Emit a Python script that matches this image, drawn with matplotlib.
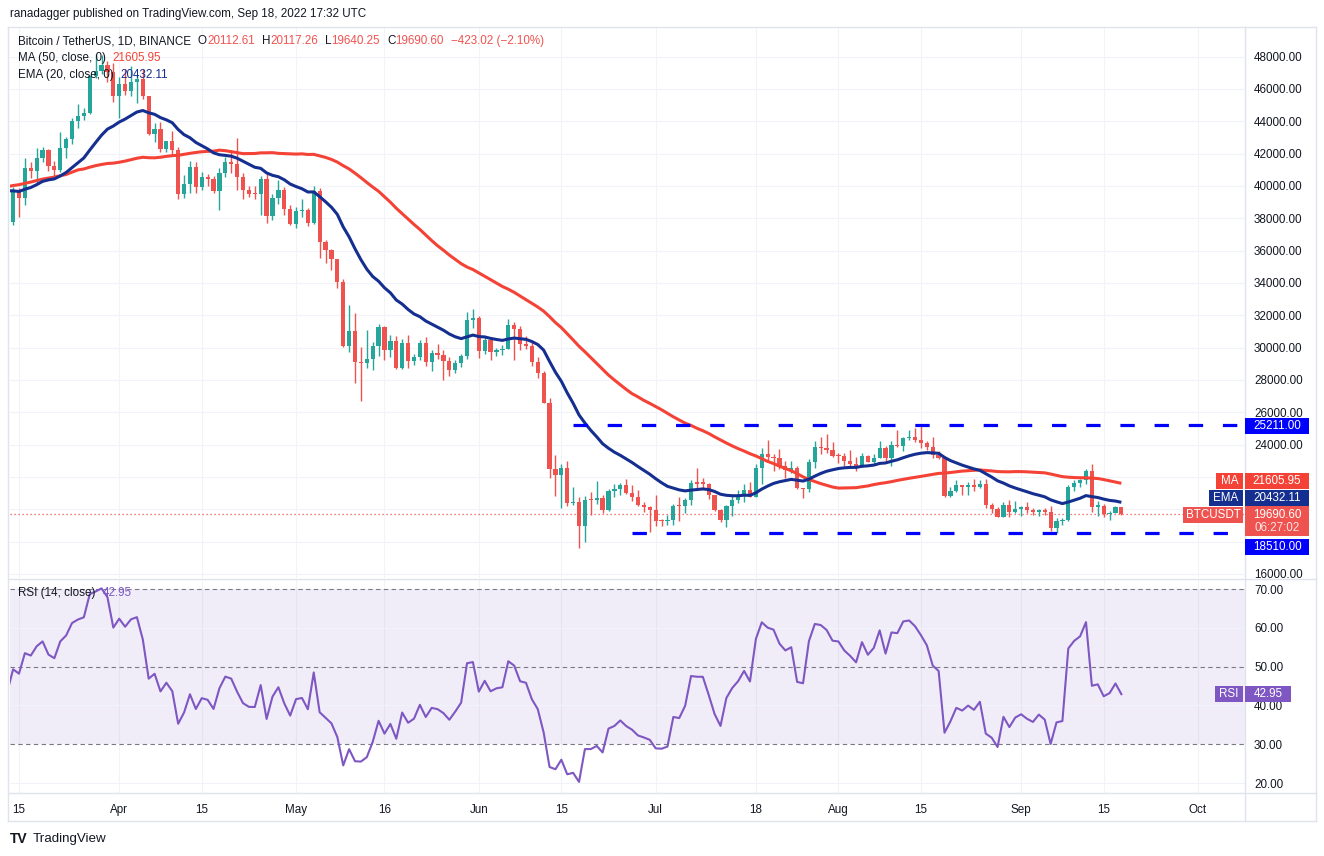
import numpy as np
import pandas as pd
import matplotlib
matplotlib.use("Agg")
import matplotlib.pyplot as plt
from matplotlib.patches import Rectangle

plt.rcParams['font.family'] = ['Liberation Sans', 'DejaVu Sans']

# daily closes 2022-01-01 .. 2022-03-12, only used to warm up MA / EMA / RSI
pre_closes = [47722, 47286, 46446, 45832, 43451, 43082, 41566, 41679, 41864, 41822,
              42736, 43921, 42592, 43099, 43177, 43113, 42250, 42375, 41744,
              40680, 36445, 35071, 36244, 36660, 36958, 36810, 37160, 37716, 38166, 37882, 38466,
              38690, 36896, 37311, 41575, 41382, 42380, 43840, 44043, 44380, 43500,
              42373, 42217, 42053, 42535, 44544, 43873, 40515, 39974, 40079, 38386,
              37008, 38230, 37250, 38328, 39219, 39116, 37700, 43160,
              44421, 43892, 42454, 39148, 39398, 38420, 37988, 38730, 41942, 39422, 38730, 38807]

# visible candles, one per day from 2022-03-13 to 2022-09-18 (open = previous close)
first_day = "2022-03-13"
highs = [39309, 39947, 39887, 41718, 41478, 42325, 42400, 42296, 41544, 43361,
         43025, 44220, 45094, 44792, 46890, 48189, 48096, 47700, 47600,
         46720, 47213, 47444, 46890, 47200, 45555, 43900, 43970, 42800, 43410,
         42414, 40699, 41561, 41500, 40870, 40709, 40595, 41100, 41760, 42199,
         42976, 40800, 39980, 40000, 40616, 40797, 39474, 40372, 39925, 38795,
         38675, 39167, 38651, 40023, 39845, 36639, 36129, 35510, 34243, 32658,
         32162, 30032, 31083, 30343, 31460, 31308, 30776, 30739, 30545, 30777,
         29624, 30487, 30670, 29837, 30223, 29876, 29397, 29250, 29587, 32222, 32399,
         31982, 30690, 30675, 29955, 30189, 31765, 31589, 31327, 30700, 30388,
         29440, 28544, 26895, 23362, 22800, 22982, 21365, 20792, 20815, 21090,
         21723, 20900, 21233, 21558, 21614, 21868, 21520, 21191, 20433, 20179,
         20876, 19395, 19654, 20354, 20750, 20675, 21838, 22527, 21954, 21600,
         20868, 20043, 20250, 20881, 21200, 21588, 21684, 22777, 23800, 24276,
         23442, 23757, 22977, 23014, 22666, 21347, 23112, 24199, 24442, 24668, 24194,
         23509, 23459, 23647, 23223, 23475, 23354, 23400, 24245, 23925, 24226,
         24918, 24456, 24888, 25047, 25211, 24247, 24446, 23600, 23208, 21382,
         21800, 21522, 21684, 21900, 21819, 21886, 20402, 20160, 20432, 20580, 20490,
         20208, 20440, 20057, 20000, 20058, 20180, 19464, 19454, 21500, 21800,
         21860, 22488, 22799, 20540, 20330, 19890, 20189, 20117.26]
lows = [37578, 37555, 38098, 38828, 40500, 40135, 41499, 40911, 40467, 40875,
        41751, 42566, 43579, 44071, 44421, 46663, 46950, 46445, 45200,
        44200, 45620, 45530, 45118, 45353, 43121, 42727, 42107, 42125, 41868,
        39200, 39254, 39588, 39551, 39766, 39991, 39546, 38536, 40571, 40820,
        39751, 39177, 39285, 39200, 38200, 37702, 37881, 38881, 38175, 37578,
        37386, 38052, 37511, 37671, 35572, 35258, 34785, 33713, 30033, 29730,
        27785, 26700, 28751, 28630, 29480, 29251, 29411, 28654, 28693, 28730,
        28947, 29255, 28866, 28575, 29294, 28019, 28261, 28450, 28811, 29301, 31200,
        29350, 29594, 29251, 29485, 29531, 29890, 29218, 29843, 29944, 28850,
        28099, 26560, 21925, 20846, 20111, 20232, 20246, 17622, 17960, 19637,
        20348, 19770, 19890, 20736, 20906, 20964, 20510, 20188, 19849, 18626,
        18975, 18977, 19000, 19055, 19304, 19761, 20250, 21189, 21319, 20646,
        19901, 19240, 18910, 19616, 20385, 20478, 20751, 20763, 21581, 22906,
        22341, 22500, 21934, 22257, 21250, 20706, 21043, 22582, 23414, 23502, 23227,
        22850, 22654, 22681, 22400, 22588, 22909, 22841, 23155, 22865, 22664,
        23852, 23583, 24296, 24150, 23773, 23671, 23180, 23111, 20783, 20761,
        21069, 20890, 20880, 21145, 21310, 20107, 19800, 19522, 19555, 19540, 19797,
        19565, 19754, 19655, 19600, 19633, 18649, 18510, 19000, 19300, 21111,
        21350, 21538, 19860, 19617, 19497, 19320, 19748, 19640.25]
closes = [37777, 39671, 39280, 41114, 40917, 41757, 42201, 41262, 41002, 42364,
          42882, 43991, 44313, 44512, 46820, 47128, 47465, 47062, 45538,
          46281, 45868, 46453, 46622, 45555, 43206, 43503, 42287, 42782, 42207,
          39521, 40127, 41166, 39935, 40553, 40424, 39716, 40827, 41503, 41374,
          40527, 39741, 39479, 39470, 40458, 38112, 39235, 39742, 38596, 37630,
          38468, 38525, 37729, 39695, 36547, 36013, 35472, 34038, 30076, 31017,
          29104, 29047, 29284, 30101, 31305, 29862, 30425, 28716, 30314, 29201,
          29445, 30294, 29110, 29655, 29543, 29201, 28630, 29031, 29469, 31727, 31802,
          29805, 30452, 29700, 29865, 29919, 31373, 31125, 30204, 30110, 29091,
          28425, 26575, 22487, 22136, 22583, 20401, 20468, 18970, 20574, 20573,
          20723, 19987, 21110, 21237, 21492, 21038, 20742, 20281, 20123, 19942,
          19279, 19252, 19315, 20236, 20175, 20564, 21624, 21594, 21592, 20862,
          19963, 19328, 20234, 20588, 20830, 21195, 20785, 22525, 23410, 23223,
          23153, 22684, 22451, 22579, 21310, 21254, 22952, 23843, 23805, 23643, 23293,
          23268, 22988, 22819, 22624, 23312, 22945, 23175, 23810, 23149, 23954,
          23934, 24403, 24442, 24305, 24094, 23854, 23336, 23191, 20834, 21140,
          21516, 21400, 21529, 21368, 21560, 20241, 20037, 19555, 20285, 19811, 20050,
          20131, 19952, 19832, 19986, 19812, 18837, 19290, 19319, 21361, 21652,
          21826, 22396, 20173, 20227, 19701, 19803, 20113.62, 19690.60]
last_open = 20112.61

# support / resistance drawn by the author
levels = [25211.00, 18510.00]
level_from = ["2022-06-17", "2022-06-27"]

# values printed in the legend / price scale tags
ma_last = 21605.95
ema_last = 20432.11
rsi_last = 42.95
countdown = "06:27:02"

tick_dates = ["2022-03-15", "2022-04-01", "2022-04-15", "2022-05-01", "2022-05-16",
              "2022-06-01", "2022-06-15", "2022-07-01", "2022-07-18", "2022-08-01",
              "2022-08-15", "2022-09-01", "2022-09-15", "2022-10-01"]
tick_labels = ["15", "Apr", "15", "May", "16", "Jun", "15", "Jul", "18", "Aug",
               "15", "Sep", "15", "Oct"]
price_ticks = list(range(16000, 48001, 2000))
rsi_ticks = [20, 30, 40, 50, 60, 70]

UP = '#26a69a'
DOWN = '#ef5350'
MA_COL = '#f44336'
EMA_COL = '#142f8f'
RSI_COL = '#7e57c2'
LVL_COL = '#0000ff'
TXT = '#131722'
GRID = '#f0f3fa'
BORDER = '#e0e3eb'
FS = 8.4

W, H = 1324, 856

dates = pd.date_range(first_day, periods=len(closes), freq="D")
x = np.arange(len(closes))


def xpos(d):
    return (pd.Timestamp(d) - dates[0]).days


c = np.array(closes, dtype=float)
h = np.array(highs, dtype=float)
l = np.array(lows, dtype=float)
o = np.r_[pre_closes[-1], c[:-1]]
o[-1] = last_open

allc = pd.Series(pre_closes + closes, dtype=float)
n = len(closes)
ma50 = allc.rolling(50).mean().to_numpy()[-n:]
ema20 = allc.ewm(span=20, adjust=False).mean().to_numpy()[-n:]
diff = allc.diff()
gain = diff.clip(lower=0).ewm(alpha=1 / 14, adjust=False).mean()
loss = (-diff.clip(upper=0)).ewm(alpha=1 / 14, adjust=False).mean()
rsi = (100 - 100 / (1 + gain / loss)).to_numpy()[-n:]

fig = plt.figure(figsize=(W / 100, H / 100), dpi=100)
fig.patch.set_facecolor('white')


def frac(px0, py0, px1, py1):
    # pixel box (top-left origin) -> figure fraction rect
    return [px0 / W, 1 - py1 / H, (px1 - px0) / W, (py1 - py0) / H]


ax = fig.add_axes(frac(10, 28, 1245, 578))
ax2 = fig.add_axes(frac(10, 579, 1245, 793), sharex=ax)

tx = [xpos(d) for d in tick_dates]
xmin = xpos("2022-03-15") - 9 / 5.895
xmax = xpos("2022-03-15") + (1245 - 19) / 5.895

# ---- price pane
for a in (ax, ax2):
    a.set_facecolor('white')
    for s in a.spines.values():
        s.set_visible(False)
    for t in tx:
        a.axvline(t, color=GRID, lw=0.8, zorder=0)

for p in price_ticks:
    ax.axhline(p, color=GRID, lw=0.8, zorder=0)

col = np.where(c >= o, UP, DOWN)
ax.vlines(x, l, h, colors=col, lw=1.0, zorder=2)
ax.bar(x, np.maximum(np.abs(c - o), 70), bottom=np.minimum(o, c), width=0.72,
       color=col, lw=0, zorder=3)

ax.plot(x, ma50, color=MA_COL, lw=2.2, zorder=4, solid_capstyle='butt')
ax.plot(x, ema20, color=EMA_COL, lw=2.2, zorder=4, solid_capstyle='butt')

for lvl, start in zip(levels, level_from):
    ax.plot([xpos(start), xmax], [lvl, lvl], color=LVL_COL, lw=2.3,
            linestyle=(0, (4.5, 6.2)), zorder=5)

ax.axhline(c[-1], color=DOWN, lw=0.9, linestyle=(0, (1, 2.2)), zorder=1)

ax.set_xlim(xmin, xmax)
ax.set_ylim(16000 - 4 / 0.01617, 16000 + 546 / 0.01617)
ax.yaxis.tick_right()
ax.tick_params(axis='x', length=0, labelbottom=False)

# ---- RSI pane
ax2.fill_between([xmin, xmax], 30, 70, color=RSI_COL, alpha=0.1, lw=0, zorder=0)
for g in [20, 40, 60]:
    ax2.axhline(g, color=GRID, lw=0.8, zorder=0)
for g in [30, 50, 70]:
    ax2.axhline(g, color='#787b86', lw=0.8, linestyle=(0, (4, 3)), zorder=1)
ax2.plot(x, rsi, color=RSI_COL, lw=1.5, zorder=3)
ax2.set_ylim(20 - 10 / 3.88, 70 + 10 / 3.88)
ax2.yaxis.tick_right()
ax2.set_yticks(rsi_ticks)
ax2.set_yticklabels([f"{v:.2f}" for v in rsi_ticks])
ax2.tick_params(axis='y', length=0, pad=6.5, labelsize=FS, labelcolor=TXT)
ax2.set_xticks(tx)
ax2.set_xticklabels(tick_labels)
ax2.tick_params(axis='x', length=0, pad=8, labelsize=FS, labelcolor=TXT)
ax2.set_xlim(xmin, xmax)


# ---- frame lines
def fline(x0, y0, x1, y1):
    fig.add_artist(plt.Line2D([x0 / W, x1 / W], [1 - y0 / H, 1 - y1 / H],
                              color=BORDER, lw=1.0, transform=fig.transFigure))


fline(8, 27, 1316, 27)
fline(8, 821, 1316, 821)
fline(8, 27, 8, 821)
fline(1316, 27, 1316, 821)
fline(1245, 27, 1245, 821)
fline(8, 578.5, 1316, 578.5)
fline(8, 793, 1316, 793)


# ---- price scale tags
def box(x0, yc, w, hgt, fc):
    fig.add_artist(Rectangle((x0 / W, 1 - (yc + hgt / 2) / H), w / W, hgt / H,
                             transform=fig.transFigure, fc=fc, ec='none', zorder=5))


def ypix(a, val):
    return H - a.transData.transform((0, val))[1]


def tag(a, val, value_text, fc, name=None, name_x=None, dy=0, w=64):
    yc = ypix(a, val) + dy
    box(1245, yc, w, 16, fc)
    fig.text((1245 + w / 2) / W, 1 - yc / H, value_text, color='white', fontsize=FS,
             ha='center', va='center', zorder=6)
    if name:
        box(name_x, yc, 1243 - name_x, 16, fc)
        fig.text((name_x + 1243) / 2 / W, 1 - yc / H, name, color='white', fontsize=FS,
                 ha='center', va='center', zorder=6)
    return yc


tag_y = [tag(ax, levels[0], f"{levels[0]:.2f}", LVL_COL, dy=1),
         tag(ax, ma_last, f"{ma_last:.2f}", MA_COL, name="MA", name_x=1216, dy=-2),
         tag(ax, ema_last, f"{ema_last:.2f}", EMA_COL, name="EMA", name_x=1209, dy=-4)]
yl = ypix(ax, c[-1])
box(1245, yl + 7, 64, 30, DOWN)
fig.text((1245 + 32) / W, 1 - (yl + 1) / H, f"{c[-1]:.2f}", color='white', fontsize=FS,
         ha='center', va='center', zorder=6)
fig.text((1245 + 32) / W, 1 - (yl + 14) / H, countdown, color='#fde3e3', fontsize=FS,
         ha='center', va='center', zorder=6)
box(1183, yl + 1, 60, 16, DOWN)
fig.text(1213 / W, 1 - (yl + 1) / H, "BTCUSDT", color='white', fontsize=FS,
         ha='center', va='center', zorder=6)
tag_y += [yl + 7, tag(ax, levels[1], f"{levels[1]:.2f}", LVL_COL, dy=14)]
tag(ax2, rsi_last, f"{rsi_last:.2f}", RSI_COL, name="RSI", name_x=1215, w=46)

# price scale labels, the ones sitting under a tag are covered as on the original
ax.set_yticks(price_ticks)
ax.set_yticklabels(["" if min(abs(ypix(ax, p) - t) for t in tag_y) < 13 else f"{p:.2f}"
                    for p in price_ticks])
ax.tick_params(axis='y', length=0, pad=6.5, labelsize=FS, labelcolor=TXT)

# ---- header and legends
renderer = fig.canvas.get_renderer()


def text_row(x_px, y_px, parts, size=FS):
    for txt, colr, gap in parts:
        t = fig.text(x_px / W, 1 - y_px / H, txt, color=colr, fontsize=size,
                     ha='left', va='center', zorder=6)
        x_px = t.get_window_extent(renderer).x1 + gap


fig.text(10 / W, 1 - 14 / H, "ranadagger published on TradingView.com, Sep 18, 2022 17:32 UTC",
         color=TXT, fontsize=8.4, ha='left', va='center')

chg = c[-1] - c[-2]
text_row(18, 41, [("Bitcoin / TetherUS, 1D, BINANCE", TXT, 7),
                  ("O", TXT, 0), (f"{last_open:.2f}", DOWN, 7),
                  ("H", TXT, 0), (f"{h[-1]:.2f}", DOWN, 7),
                  ("L", TXT, 0), (f"{l[-1]:.2f}", DOWN, 7),
                  ("C", TXT, 0), (f"{c[-1]:.2f}", DOWN, 7),
                  (f"\u2212{abs(chg):.2f} (\u2212{abs(chg) / c[-2] * 100:.2f}%)", DOWN, 0)])
text_row(18, 58, [("MA (50, close, 0)", TXT, 7), (f"{ma_last:.2f}", MA_COL, 0)])
text_row(18, 75, [("EMA (20, close, 0)", TXT, 7), (f"{ema_last:.2f}", EMA_COL, 0)])
text_row(18, 593, [("RSI (14, close)", TXT, 7), (f"{rsi_last:.2f}", RSI_COL, 0)])

fig.text(10 / W, 1 - 839 / H, "TV", color=TXT, fontsize=10, fontweight='heavy',
         ha='left', va='center')
fig.text(33 / W, 1 - 839 / H, "TradingView", color=TXT, fontsize=9.6,
         ha='left', va='center')

fig.savefig("out.png", dpi=100, facecolor='white')
